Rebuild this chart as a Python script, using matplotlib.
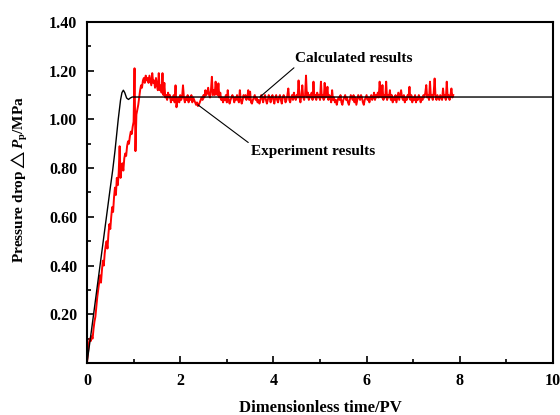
import numpy as np
import matplotlib
matplotlib.use("Agg")
import matplotlib.pyplot as plt
from matplotlib.ticker import MultipleLocator, FormatStrFormatter

# ---- data ----
calc_time = [0.0, 0.1, 0.2, 0.3, 0.4, 0.5, 0.55, 0.6, 0.67, 0.72, 0.75, 0.78,
             0.81, 0.85, 0.89, 0.93, 0.97, 10.0]
calc_pressure = [0.0, 0.14, 0.285, 0.43, 0.575, 0.72, 0.79, 0.87, 1.0, 1.08, 1.11, 1.12,
                 1.11, 1.088, 1.082, 1.088, 1.092, 1.092]

exp_time_step = 0.02
exp_pressure = [
    0.00, 0.04, 0.08, 0.10, 0.09, 0.11, 0.10, 0.14, 0.17, 0.19,
    0.23, 0.27, 0.30, 0.33, 0.36, 0.33, 0.38, 0.42, 0.40, 0.45,
    0.48, 0.50, 0.47, 0.53, 0.57, 0.55, 0.60, 0.64, 0.62, 0.68,
    0.72, 0.69, 0.76, 0.73, 0.78, 0.89, 0.76, 0.80, 0.82, 0.79,
    0.84, 0.86, 0.85, 0.89, 0.91, 0.90, 0.93, 0.95, 0.94, 0.97,
    0.99, 1.21, 0.87, 1.02, 1.04, 1.06, 1.09, 1.12, 1.14, 1.13,
    1.16, 1.17, 1.15, 1.18, 1.16, 1.17, 1.15, 1.18, 1.16, 1.14,
    1.19, 1.15, 1.16, 1.13, 1.17, 1.14, 1.12, 1.19, 1.12, 1.14,
    1.11, 1.19, 1.10, 1.15, 1.09, 1.10, 1.08, 1.11, 1.09, 1.10,
    1.07, 1.09, 1.08, 1.10, 1.07, 1.14, 1.05, 1.08, 1.09, 1.07,
    1.10, 1.08, 1.09, 1.14, 1.09, 1.07, 1.09, 1.08, 1.10, 1.07,
    1.09, 1.08, 1.10, 1.07, 1.09, 1.08, 1.07, 1.06, 1.07, 1.055,
    1.06, 1.07, 1.08, 1.09, 1.08, 1.10, 1.09, 1.12, 1.10, 1.11,
    1.13, 1.10, 1.09, 1.12, 1.175, 1.10, 1.12, 1.10, 1.155, 1.11,
    1.10, 1.148, 1.09, 1.11, 1.08, 1.09, 1.07, 1.09, 1.08, 1.10,
    1.07, 1.12, 1.08, 1.065, 1.08, 1.09, 1.10, 1.09, 1.07, 1.09,
    1.08, 1.10, 1.08, 1.07, 1.12, 1.08, 1.065, 1.08, 1.10, 1.09,
    1.10, 1.08, 1.09, 1.12, 1.08, 1.114, 1.07, 1.065, 1.08, 1.09,
    1.10, 1.08, 1.09, 1.07, 1.08, 1.065, 1.08, 1.10, 1.09, 1.07,
    1.09, 1.10, 1.08, 1.065, 1.08, 1.10, 1.09, 1.07, 1.09, 1.10,
    1.08, 1.065, 1.09, 1.10, 1.08, 1.07, 1.09, 1.10, 1.08, 1.065,
    1.09, 1.10, 1.09, 1.07, 1.08, 1.10, 1.127, 1.08, 1.07, 1.09,
    1.10, 1.08, 1.11, 1.09, 1.08, 1.10, 1.09, 1.16, 1.09, 1.07,
    1.10, 1.14, 1.09, 1.08, 1.10, 1.18, 1.09, 1.11, 1.08, 1.10,
    1.09, 1.11, 1.08, 1.155, 1.09, 1.10, 1.08, 1.11, 1.09, 1.10,
    1.08, 1.155, 1.09, 1.10, 1.08, 1.15, 1.09, 1.10, 1.134, 1.08,
    1.10, 1.09, 1.07, 1.12, 1.08, 1.09, 1.07, 1.08, 1.06, 1.08,
    1.09, 1.08, 1.10, 1.07, 1.06, 1.08, 1.09, 1.10, 1.08, 1.09,
    1.07, 1.06, 1.08, 1.10, 1.09, 1.08, 1.10, 1.07, 1.09, 1.06,
    1.08, 1.10, 1.09, 1.08, 1.10, 1.09, 1.07, 1.06, 1.08, 1.09,
    1.10, 1.08, 1.09, 1.07, 1.09, 1.10, 1.08, 1.09, 1.11, 1.08,
    1.10, 1.09, 1.11, 1.09, 1.155, 1.10, 1.09, 1.141, 1.08, 1.10,
    1.09, 1.155, 1.08, 1.10, 1.09, 1.12, 1.08, 1.10, 1.07, 1.09,
    1.08, 1.10, 1.07, 1.09, 1.11, 1.08, 1.10, 1.12, 1.09, 1.08,
    1.10, 1.07, 1.09, 1.08, 1.10, 1.09, 1.134, 1.08, 1.10, 1.07,
    1.09, 1.08, 1.10, 1.07, 1.09, 1.08, 1.10, 1.09, 1.07, 1.09,
    1.08, 1.10, 1.09, 1.11, 1.141, 1.09, 1.10, 1.08, 1.155, 1.09,
    1.10, 1.08, 1.11, 1.168, 1.09, 1.08, 1.10, 1.09, 1.08, 1.10,
    1.09, 1.08, 1.127, 1.09, 1.10, 1.08, 1.155, 1.09, 1.10, 1.08,
    1.10, 1.127, 1.09, 1.10,
]
exp_time = np.arange(len(exp_pressure)) * exp_time_step

x_ticks = [0, 2, 4, 6, 8, 10]
y_ticks = [0.20, 0.40, 0.60, 0.80, 1.00, 1.20, 1.40]

# ---- style ----
plt.rcParams['font.family'] = ['Liberation Serif', 'DejaVu Serif']
plt.rcParams['font.weight'] = 'bold'
plt.rcParams['mathtext.fontset'] = 'custom'
plt.rcParams['mathtext.rm'] = 'Liberation Serif:bold'
plt.rcParams['mathtext.it'] = 'Liberation Serif:bold:italic'
plt.rcParams['mathtext.bf'] = 'Liberation Serif:bold'

fig = plt.figure(figsize=(5.6, 4.15), dpi=100)
ax = fig.add_axes([87/560, 1 - 363/415, (553-87)/560, (363-22)/415])

ax.plot(exp_time, exp_pressure, color='#ff0000', lw=1.4, zorder=2)
ax.plot(calc_time, calc_pressure, color='black', lw=1.0, zorder=3)

ax.set_xlim(0, 10)
ax.set_ylim(0, 1.40)
ax.set_xticks(x_ticks)
ax.set_yticks(y_ticks)
ax.xaxis.set_minor_locator(MultipleLocator(1))
ax.yaxis.set_minor_locator(MultipleLocator(0.1))
ax.yaxis.set_major_formatter(FormatStrFormatter('%.2f'))
ax.tick_params(which='both', direction='in', top=False, right=False,
               labelsize=11.5, width=1.2)
ax.tick_params(which='major', length=5, pad=7)
ax.tick_params(which='minor', length=3)
for lab in ax.get_xticklabels() + ax.get_yticklabels():
    lab.set_fontweight('bold')
for s in ax.spines.values():
    s.set_linewidth(1.5)

ax.set_xlabel('Dimensionless time/PV', fontsize=12, fontweight='bold', labelpad=8)
ax.set_ylabel(r'Pressure drop$\triangle\mathit{P}_\mathrm{p}$/MPa', fontsize=11,
              fontweight='bold')
ax.yaxis.set_label_coords(-0.122, 0.537)

ax.annotate('Calculated results', xy=(3.71, 1.092), xytext=(4.46, 1.25),
            fontsize=11, fontweight='bold', ha='left', va='center',
            arrowprops=dict(arrowstyle='-', color='black', lw=0.8,
                            shrinkA=0, shrinkB=0, relpos=(0.02, 0.0)))
ax.annotate('Experiment results', xy=(2.38, 1.06), xytext=(3.52, 0.87),
            fontsize=11, fontweight='bold', ha='left', va='center',
            arrowprops=dict(arrowstyle='-', color='black', lw=0.8,
                            shrinkA=0, shrinkB=0, relpos=(0.0, 1.0)))

fig.savefig('out.png', dpi=100)
